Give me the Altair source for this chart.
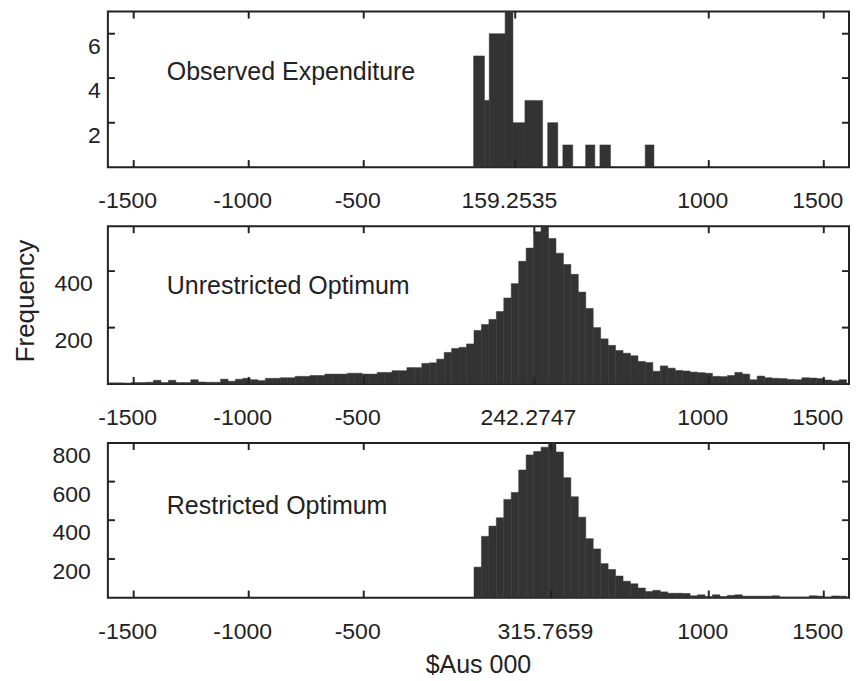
import altair as alt
import pandas as pd

# ---------------- data ----------------
# Panel 1: observed expenditure histogram (bar left/right edges in $Aus 000, counts)
obs_lo = [-22, 25, 46, 115, 149, 201, 300, 366, 465, 527, 724]
obs_hi = [25, 46, 115, 149, 201, 278, 344, 409, 505, 573, 762]
obs_cnt = [5, 3, 6, 7, 2, 3, 2, 1, 1, 1, 1]

# Panels 2 and 3 share a bin grid: first bin edge and bin width ($Aus 000)
bin_first = -1608
bin_width = 32.4

# Panel 2: unrestricted optimum, counts for bins 0..98
unres_cnt = [4, 4, 3, 5, 5, 6, 13, 5, 13, 5,
             5, 15, 7, 6, 6, 17, 10, 17, 20, 15,
             12, 20, 20, 22, 22, 27, 27, 30, 30, 35,
             35, 35, 38, 38, 35, 35, 41, 41, 47, 47,
             58, 58, 73, 75, 88, 112, 126, 130, 142, 190,
             211, 229, 257, 305, 356, 435, 482, 540, 560, 516,
             464, 424, 389, 326, 268, 200, 160, 137, 119, 109,
             100, 80, 76, 45, 64, 56, 48, 46, 42, 40,
             38, 27, 26, 30, 41, 35, 15, 28, 22, 20,
             19, 16, 15, 22, 21, 19, 14, 11, 15]

# Panel 3: restricted optimum, counts for bins 49..98 (earlier bins are empty)
restr_first_bin = 49
restr_cnt = [158, 317, 370, 413, 508, 544, 660, 738, 755, 778,
             800, 753, 620, 522, 416, 305, 252, 176, 146, 112,
             85, 72, 50, 32, 38, 30, 23, 23, 22, 10,
             15, 6, 15, 6, 12, 15, 8, 8, 8, 8,
             10, 3, 3, 3, 3, 10, 8, 3, 9, 8]

panel_titles = ["Observed Expenditure", "Unrestricted Optimum", "Restricted Optimum"]
panel_means = [159.2535, 242.2747, 315.7659]
x_ticks_fixed = [-1500, -1000, -500, 1000, 1500]
y_ticks = [[2, 4, 6], [200, 400], [200, 400, 600, 800]]
y_max = [7, 560, 800]
x_domain = [-1612, 1610]
y_title = "Frequency"
x_title = "$Aus 000"

# ---------------- tables ----------------
df1 = pd.DataFrame({"lo": obs_lo, "hi": obs_hi, "n": obs_cnt})

def grid_table(counts, first_index):
    rows = []
    for i, c in enumerate(counts):
        k = first_index + i
        if c > 0:
            lo = bin_first + bin_width * k
            rows.append({"lo": lo, "hi": lo + bin_width, "n": c})
    return pd.DataFrame(rows)

df2 = grid_table(unres_cnt, 0)
df3 = grid_table(restr_cnt, restr_first_bin)

# ---------------- styling ----------------
FONT = "Liberation Sans"
INK = "#222222"
BAR = "#333333"
PLOT_W = 742
TICK = 7


def panel(df, title, mean, yvals, ymax, height, ylabpad, ytitle=None, xtitle=None, label_y=61):
    xt = sorted(x_ticks_fixed + [mean])
    xscale = alt.Scale(domain=x_domain, nice=False, zero=False)
    yscale = alt.Scale(domain=[0, ymax], nice=False)
    xtick_df = pd.DataFrame({"tv": xt})
    ytick_df = pd.DataFrame({"tv": yvals})
    xlab_df = pd.DataFrame({"v": xt, "lab": [str(v) for v in xt]})
    ylab_df = pd.DataFrame({"v": yvals, "lab": [str(v) for v in yvals]})

    bars = alt.Chart(df).mark_rect(color=BAR, stroke=BAR, strokeWidth=0.5).encode(
        x=alt.X("lo:Q", scale=xscale, axis=None),
        x2="hi:Q",
        y=alt.Y("n:Q", scale=yscale, axis=None),
        y2=alt.datum(0),
    )
    # inward tick marks on all four sides (rules, doubled by tick marks)
    rule = dict(color=INK, strokeWidth=1.6)
    tk = dict(color=INK, thickness=1.6, size=TICK, opacity=1)
    tick_layers = [
        alt.Chart(xtick_df).mark_rule(**rule).encode(
            x=alt.X("tv:Q", scale=xscale, axis=None),
            y=alt.value(height), y2=alt.value(height - TICK)),
        alt.Chart(xtick_df).mark_rule(**rule).encode(
            x=alt.X("tv:Q", scale=xscale, axis=None),
            y=alt.value(0), y2=alt.value(TICK)),
        alt.Chart(ytick_df).mark_rule(**rule).encode(
            y=alt.Y("tv:Q", scale=yscale, axis=None),
            x=alt.value(0), x2=alt.value(TICK)),
        alt.Chart(ytick_df).mark_rule(**rule).encode(
            y=alt.Y("tv:Q", scale=yscale, axis=None),
            x=alt.value(PLOT_W), x2=alt.value(PLOT_W - TICK)),
        alt.Chart(xtick_df).mark_tick(orient="vertical", **tk).encode(
            x=alt.X("tv:Q", scale=xscale, axis=None),
            y=alt.value(height - TICK / 2)),
        alt.Chart(xtick_df).mark_tick(orient="vertical", **tk).encode(
            x=alt.X("tv:Q", scale=xscale, axis=None),
            y=alt.value(TICK / 2)),
        alt.Chart(ytick_df).mark_tick(orient="horizontal", **tk).encode(
            y=alt.Y("tv:Q", scale=yscale, axis=None),
            x=alt.value(TICK / 2)),
        alt.Chart(ytick_df).mark_tick(orient="horizontal", **tk).encode(
            y=alt.Y("tv:Q", scale=yscale, axis=None),
            x=alt.value(PLOT_W - TICK / 2)),
    ]
    xlab = alt.Chart(xlab_df).mark_text(
        align="center", baseline="top", font=FONT, fontSize=23, color=INK, dx=-6
    ).encode(x=alt.X("v:Q", scale=xscale, axis=None), y=alt.value(height + 23),
             text="lab:N")
    ylab = alt.Chart(ylab_df).mark_text(
        align="right", baseline="top", font=FONT, fontSize=23, color=INK, dy=2
    ).encode(y=alt.Y("v:Q", scale=yscale, axis=None), x=alt.value(-ylabpad),
             text="lab:N")
    txt = alt.Chart(alt.Data(values=[{"t": title}])).mark_text(
        align="left", baseline="middle", font=FONT, fontSize=25, color=INK
    ).encode(text="t:N", x=alt.value(59), y=alt.value(label_y))
    layers = [bars] + tick_layers + [xlab, ylab, txt]
    if ytitle:
        layers.append(alt.Chart(alt.Data(values=[{"t": ytitle}])).mark_text(
            angle=270, align="center", baseline="alphabetic", font=FONT,
            fontSize=26, color=INK
        ).encode(text="t:N", x=alt.value(-74), y=alt.value(75)))
    if xtitle:
        layers.append(alt.Chart(alt.Data(values=[{"t": xtitle}])).mark_text(
            align="center", baseline="top", font=FONT, fontSize=25, color=INK
        ).encode(text="t:N", x=alt.value(PLOT_W / 2), y=alt.value(height + 55)))
    return alt.layer(*layers).properties(width=PLOT_W, height=height)


p1 = panel(df1, panel_titles[0], panel_means[0], y_ticks[0], y_max[0], 156, 7, label_y=61)
p2 = panel(df2, panel_titles[1], panel_means[1], y_ticks[1], y_max[1], 158, 15,
           ytitle=y_title, label_y=60)
p3 = panel(df3, panel_titles[2], panel_means[2], y_ticks[2], y_max[2], 155, 17,
           xtitle=x_title, label_y=63)

chart = alt.vconcat(p1, p2, p3, spacing=10).properties(
    padding={"left": 4, "top": 1, "right": 0, "bottom": 0},
    background="white",
).configure_view(stroke=INK, strokeWidth=2)

chart.save("out.html", embed_options={"renderer": "svg", "actions": False})
